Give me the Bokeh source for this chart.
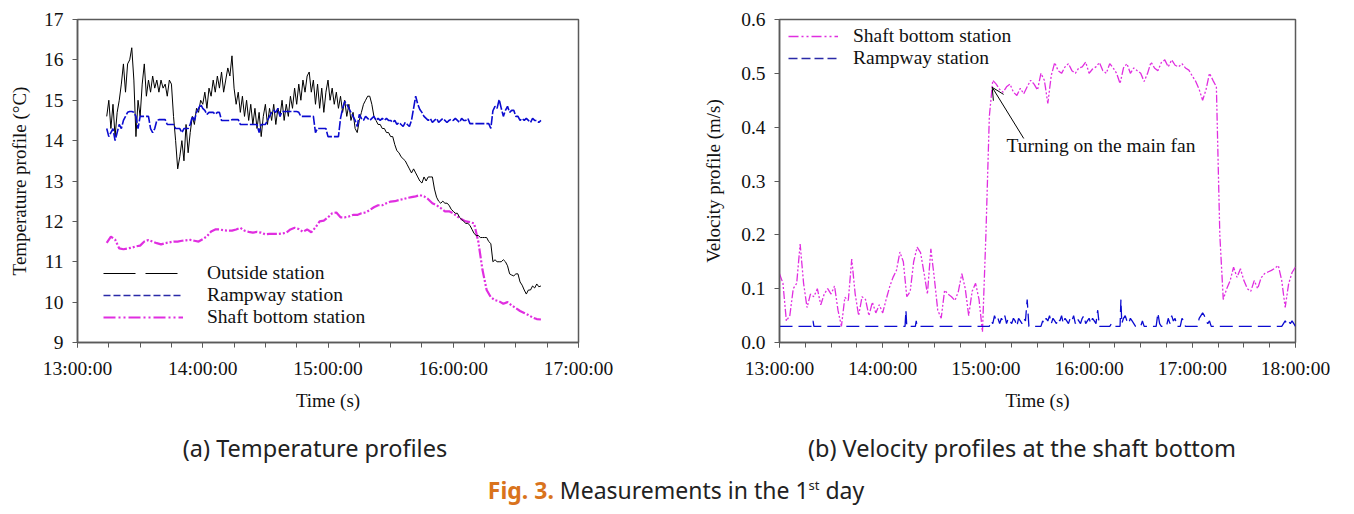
import pandas as pd
from bokeh.plotting import figure
from bokeh.models import (FixedTicker, DatetimeTickFormatter, NumeralTickFormatter, Legend,
                          LegendItem, Arrow, OpenHead, Label, Div, Range1d)
from bokeh.layouts import row, column
from bokeh.embed import file_html
from bokeh.resources import INLINE

# ---------------- data ----------------
DAY = "2000-01-01 "
T0 = pd.Timestamp(DAY + "13:00:00")

# (a) temperature, sampled every minute from 13:14
temp_start_min = 14
outside_temp = [
    14.6, 15.0, 14.3, 14.9, 14.1, 14.7, 15.0, 15.4, 15.9, 15.2,
    15.9, 16.0, 16.3, 15.5, 14.1, 15.0, 14.6, 15.4, 15.9, 15.1,
    15.5, 15.2, 15.6, 15.3, 15.5, 15.2, 15.5, 15.3, 15.4, 15.1,
    15.5, 15.4, 14.6, 14.0, 13.3, 13.6, 14.0, 13.5, 14.4, 13.7,
    14.2, 14.6, 14.4, 14.8, 14.7, 15.0, 14.9, 15.2, 14.8, 15.3,
    15.1, 15.5, 15.2, 15.6, 15.3, 15.7, 15.2, 15.5, 15.8, 15.6,
    16.1, 15.3, 14.9, 15.2, 14.7, 15.1, 14.6, 15.0, 14.5, 14.9,
    14.4, 14.8, 14.3, 14.7, 14.1, 14.6, 14.9, 14.4, 14.8, 14.5,
    14.9, 14.4, 14.8, 14.6, 15.0, 14.5, 14.9, 14.6, 15.1, 14.8,
    15.3, 14.9, 15.4, 15.0, 15.5, 15.2, 15.6, 15.7, 15.2, 15.5,
    14.9, 15.4, 14.8, 15.3, 14.7, 15.2, 15.5, 15.0, 15.3, 14.9,
    15.2, 14.8, 15.1, 14.7, 15.0, 14.6, 14.9, 14.5, 14.7, 14.3,
    14.2, 14.5, 14.7, 14.9, 15.0, 15.1, 15.1, 14.9, 14.6, 14.5,
    14.4, 14.4, 14.3, 14.3, 14.2, 14.2, 14.1, 14.1, 13.9, 13.75,
    13.7, 13.6, 13.55, 13.5, 13.4, 13.3, 13.2, 13.3, 13.2, 13.1,
    13.0, 12.95, 13.1, 13.0, 13.1, 13.1, 13.1, 12.8, 12.6, 12.5,
    12.45, 12.5, 12.45, 12.45, 12.4, 12.3, 12.25, 12.2, 12.2, 12.1,
    12.05, 12.0, 11.95, 11.95, 11.9, 11.8, 11.7, 11.65, 11.65, 11.6,
    11.6, 11.6, 11.6, 11.5, 11.45, 11.0, 11.05, 11.0, 11.0, 11.0,
    11.05, 11.0, 10.9, 10.7, 10.67, 10.65, 10.7, 10.7, 10.5, 10.42,
    10.3, 10.2, 10.3, 10.3, 10.4, 10.35, 10.45, 10.38, 10.4,
]
rampway_temp = [
    14.3, 14.1, 14.2, 14.3, 14.0, 14.2, 14.4, 14.3, 14.5, 14.6,
    14.7, 14.72, 14.72, 14.7, 14.6, 14.3, 14.6, 14.6, 14.6, 14.6,
    14.6, 14.3, 14.2, 14.3, 14.5, 14.52, 14.52, 14.52, 14.52, 14.4,
    14.4, 14.4, 14.4, 14.3, 14.3, 14.3, 14.2, 14.3, 14.3, 14.3,
    14.4, 14.6, 14.5, 14.7, 14.8, 14.9, 14.8, 14.75, 14.65, 14.7,
    14.7, 14.7, 14.65, 14.7, 14.7, 14.5, 14.5, 14.5, 14.5, 14.5,
    14.52, 14.52, 14.52, 14.52, 14.4, 14.4, 14.4, 14.4, 14.4, 14.4,
    14.4, 14.4, 14.4, 14.2, 14.4, 14.4, 14.4, 14.5, 14.6, 14.7,
    14.75, 14.7, 14.8, 14.6, 14.72, 14.72, 14.72, 14.72, 14.72, 14.72,
    14.72, 14.72, 14.7, 14.6, 14.6, 14.6, 14.6, 14.6, 14.6, 14.6,
    14.2, 14.3, 14.3, 14.3, 14.3, 14.3, 14.1, 14.1, 14.1, 14.1,
    14.1, 14.1, 14.55, 14.8, 14.97, 14.9, 14.8, 14.7, 14.6, 14.5,
    14.35, 14.65, 14.55, 14.5, 14.6, 14.55, 14.5, 14.55, 14.6, 14.5,
    14.55, 14.5, 14.55, 14.5, 14.55, 14.5, 14.5, 14.45, 14.5, 14.4,
    14.45, 14.4, 14.35, 14.45, 14.4, 14.35, 14.5, 14.8, 15.1, 14.9,
    14.77, 14.7, 14.6, 14.55, 14.5, 14.55, 14.45, 14.5, 14.55, 14.45,
    14.5, 14.55, 14.5, 14.45, 14.5, 14.53, 14.5, 14.55, 14.5, 14.45,
    14.55, 14.5, 14.5, 14.55, 14.42, 14.42, 14.42, 14.42, 14.42, 14.42,
    14.42, 14.42, 14.42, 14.42, 14.3, 14.74, 14.85, 14.8, 15.02, 14.8,
    14.6, 14.75, 14.85, 14.7, 14.75, 14.75, 14.6, 14.6, 14.5, 14.55,
    14.5, 14.55, 14.5, 14.45, 14.55, 14.5, 14.5, 14.45, 14.5,
]
# shaft bottom, every 2 minutes from 13:14
shaft_temp = [
    11.47, 11.62, 11.55, 11.33, 11.31, 11.33, 11.35, 11.38, 11.4, 11.5,
    11.54, 11.5, 11.46, 11.43, 11.46, 11.48, 11.5, 11.5, 11.52, 11.53,
    11.54, 11.52, 11.5, 11.56, 11.63, 11.75, 11.8, 11.8, 11.78, 11.77,
    11.77, 11.8, 11.84, 11.77, 11.74, 11.72, 11.74, 11.72, 11.68, 11.69,
    11.69, 11.69, 11.7, 11.72, 11.8, 11.84, 11.81, 11.74, 11.8, 11.73,
    11.85, 12.0, 12.02, 12.1, 12.2, 12.22, 12.1, 12.1, 12.12, 12.16,
    12.16, 12.2, 12.22, 12.28, 12.35, 12.4, 12.4, 12.45, 12.49, 12.5,
    12.53, 12.55, 12.58, 12.6, 12.62, 12.65, 12.62, 12.55, 12.45, 12.4,
    12.33, 12.25, 12.25, 12.2, 12.12, 12.05, 12.0, 11.98, 11.95, 11.5,
    10.8, 10.3, 10.12, 10.05, 10.02, 9.96, 10.0, 9.92, 9.85, 9.78,
    9.73, 9.68, 9.62, 9.58, 9.57,
]

# (b) velocity, shaft bottom every 2 minutes from 13:00
shaft_vel = [
    0.128, 0.11, 0.04, 0.05, 0.1, 0.11, 0.183, 0.11, 0.065, 0.09,
    0.085, 0.1, 0.07, 0.09, 0.1, 0.09, 0.105, 0.06, 0.03, 0.084,
    0.078, 0.155, 0.09, 0.05, 0.085, 0.08, 0.05, 0.075, 0.055, 0.07,
    0.055, 0.08, 0.103, 0.121, 0.134, 0.168, 0.15, 0.085, 0.095, 0.15,
    0.177, 0.167, 0.13, 0.09, 0.174, 0.12, 0.06, 0.045, 0.097, 0.09,
    0.085, 0.078, 0.095, 0.128, 0.1, 0.05, 0.095, 0.11, 0.08, 0.02,
    0.2, 0.42, 0.487, 0.48, 0.47, 0.465, 0.475, 0.48, 0.465, 0.459,
    0.472, 0.462, 0.475, 0.487, 0.48, 0.469, 0.5, 0.487, 0.444, 0.496,
    0.52, 0.505, 0.5, 0.512, 0.518, 0.505, 0.5, 0.51, 0.512, 0.521,
    0.5, 0.508, 0.512, 0.52, 0.505, 0.5, 0.518, 0.51, 0.5, 0.481,
    0.51, 0.518, 0.5, 0.51, 0.505, 0.5, 0.485, 0.5, 0.521, 0.51,
    0.505, 0.52, 0.525, 0.512, 0.525, 0.515, 0.512, 0.518, 0.51, 0.506,
    0.495, 0.485, 0.47, 0.45, 0.47, 0.5, 0.487, 0.475, 0.2, 0.08,
    0.1, 0.115, 0.14, 0.121, 0.137, 0.115, 0.1, 0.095, 0.115, 0.1,
    0.12, 0.128, 0.131, 0.134, 0.138, 0.143, 0.115, 0.065, 0.109, 0.13,
    0.14,
]
# rampway velocity: minutes after 13:00 and values
ramp_vel_min = [
    0, 19, 19.5, 20, 73, 73.5, 74, 79, 79.5, 80, 122,
    123, 124, 125, 126, 127, 128, 129, 130, 131, 132, 133, 134, 135, 136, 137, 138,
    139, 140, 141, 142, 143, 144, 145, 152,
    153, 154, 155, 156, 157, 158, 159, 160, 161, 162, 163, 164, 165, 166, 167, 168,
    169, 170, 171, 172, 173, 174, 175, 176, 177, 178, 179, 180, 181, 182, 183, 184,
    185, 186, 192, 193, 194, 198, 198.5, 199, 200, 201, 202, 203, 204, 205, 206, 207,
    210, 211, 212, 219, 220, 221, 222, 225, 226, 227, 228, 229, 230, 231, 233, 234,
    235, 236, 243, 244, 245, 246, 247, 248, 249, 250, 251, 292, 293, 294, 295, 296,
    297, 298, 299, 300,
]
ramp_vel = [
    0.03, 0.03, 0.04, 0.03, 0.03, 0.06, 0.03, 0.03, 0.04, 0.03, 0.03,
    0.04, 0.035, 0.05, 0.04, 0.045, 0.035, 0.045, 0.04, 0.05, 0.035, 0.045, 0.04, 0.035, 0.045, 0.04, 0.03,
    0.045, 0.04, 0.035, 0.045, 0.04, 0.08, 0.03, 0.03,
    0.04, 0.035, 0.045, 0.04, 0.05, 0.035, 0.045, 0.04, 0.035, 0.045, 0.04, 0.05, 0.035, 0.045, 0.04, 0.035,
    0.045, 0.04, 0.05, 0.035, 0.045, 0.04, 0.035, 0.045, 0.05, 0.035, 0.04, 0.045, 0.035, 0.045, 0.04, 0.035,
    0.06, 0.03, 0.03, 0.035, 0.03, 0.03, 0.08, 0.035, 0.045, 0.05, 0.04, 0.035, 0.045, 0.04, 0.035, 0.03,
    0.03, 0.04, 0.03, 0.03, 0.055, 0.035, 0.03, 0.03, 0.045, 0.035, 0.05, 0.04, 0.045, 0.03, 0.03, 0.045,
    0.04, 0.03, 0.03, 0.045, 0.05, 0.055, 0.05, 0.04, 0.035, 0.04, 0.03, 0.03, 0.035, 0.04, 0.035, 0.04,
    0.035, 0.04, 0.035, 0.03,
]

temp_ticks = ["13:00:00", "14:00:00", "15:00:00", "16:00:00", "17:00:00"]
vel_ticks = ["13:00:00", "14:00:00", "15:00:00", "16:00:00", "17:00:00", "18:00:00"]
temp_yticks = [9, 10, 11, 12, 13, 14, 15, 16, 17]
vel_yticks = [0.0, 0.1, 0.2, 0.3, 0.4, 0.5, 0.6]

# ---------------- helpers ----------------
SERIF = "Liberation Serif"
AX = "#5a5a5a"
FS = "19.5px"


def ts(hms):
    return pd.Timestamp(DAY + hms)


def ms(hms):
    return ts(hms).value / 1e6


def minutes_series(start_min, step, n):
    return [T0 + pd.Timedelta(minutes=start_min + step * i) for i in range(n)]


def quarter_ticks(first, last):
    out = []
    t = ts(first)
    while t <= ts(last):
        out.append(t.value / 1e6)
        t += pd.Timedelta(minutes=15)
    return out


fmt_all = dict(milliseconds="%H:%M:%S", seconds="%H:%M:%S", minsec="%H:%M:%S",
               minutes="%H:%M:%S", hourmin="%H:%M:%S", hours="%H:%M:%S",
               days="%H:%M:%S", months="%H:%M:%S", years="%H:%M:%S")


def style(p):
    p.xgrid.visible = False
    p.ygrid.visible = False
    p.outline_line_color = AX
    p.outline_line_width = 1.5
    p.background_fill_color = "white"
    p.border_fill_color = "white"
    for ax in list(p.xaxis) + list(p.yaxis):
        ax.axis_line_color = AX
        ax.axis_line_width = 1.5
        ax.major_tick_line_color = AX
        ax.minor_tick_line_color = AX
        ax.major_tick_in = 0
        ax.major_tick_out = 5
        ax.minor_tick_in = 0
        ax.minor_tick_out = 5
        ax.major_label_text_font = SERIF
        ax.major_label_text_font_size = FS
        ax.major_label_text_color = "#111111"
        ax.major_label_standoff = 10
        ax.axis_label_text_font = SERIF
        ax.axis_label_text_font_size = "19px"
        ax.axis_label_text_font_style = "normal"
        ax.axis_label_text_color = "#111111"
    for ax in p.yaxis:
        ax.minor_tick_line_color = None
        ax.major_label_standoff = 9


def dummy(p, **kw):
    # legend-only renderer: one point outside the visible range
    return p.line([T0 - pd.Timedelta(hours=2)], [0], **kw)


# ---------------- (a) temperature ----------------
pL = figure(width=698, height=420, x_axis_type="datetime", output_backend="svg",
            toolbar_location=None, min_border_left=77, min_border_right=120,
            min_border_top=17, min_border_bottom=75,
            x_range=Range1d(ts("13:00:00"), ts("17:00:00")), y_range=Range1d(9, 17))
style(pL)
pL.xaxis.ticker = FixedTicker(ticks=[ms(t) for t in temp_ticks],
                              minor_ticks=quarter_ticks("13:00:00", "17:00:00"))
pL.xaxis.formatter = DatetimeTickFormatter(**fmt_all)
pL.yaxis.ticker = FixedTicker(ticks=temp_yticks)
pL.xaxis.axis_label = "Time (s)"
pL.yaxis.axis_label = "Temperature profile (°C)"
pL.xaxis.axis_label_standoff = 8
pL.yaxis.axis_label_standoff = 11

BLACK = "#000000"
BLUE = "#0b0bd0"
MAG = "#e02ee0"

pL.line(minutes_series(temp_start_min, 2, len(shaft_temp)), shaft_temp, color=MAG,
        line_width=2.2, line_dash="10 2 2 2 2 2")
pL.line(minutes_series(temp_start_min, 1, len(outside_temp)), outside_temp, color=BLACK,
        line_width=1)
pL.line(minutes_series(temp_start_min, 1, len(rampway_temp)), rampway_temp, color=BLUE,
        line_width=1.6, line_dash="9 2")

lg_o = dummy(pL, color=BLACK, line_width=1.2, line_dash="32 10")
lg_r = dummy(pL, color="#2a2aa8", line_width=1.6, line_dash="7 3")
lg_s = dummy(pL, color=MAG, line_width=2.2, line_dash="12 3 2 3 2 3")
legL = Legend(items=[LegendItem(label="Outside station", renderers=[lg_o]),
                     LegendItem(label="Rampway station", renderers=[lg_r]),
                     LegendItem(label="Shaft bottom station", renderers=[lg_s])],
              location=(26, 14), padding=0, margin=0, spacing=0,
              border_line_color=None, background_fill_alpha=0,
              label_text_font=SERIF, label_text_font_size=FS, label_text_color="#111111",
              glyph_width=80, glyph_height=22, label_height=22, label_standoff=24)
pL.add_layout(legL)

# ---------------- (b) velocity ----------------
pR = figure(width=648, height=420, x_axis_type="datetime", output_backend="svg",
            toolbar_location=None, min_border_left=81, min_border_right=51,
            min_border_top=19, min_border_bottom=78,
            x_range=Range1d(ts("13:00:00"), ts("18:00:00")), y_range=Range1d(0, 0.6))
style(pR)
pR.xaxis.ticker = FixedTicker(ticks=[ms(t) for t in vel_ticks],
                              minor_ticks=quarter_ticks("13:00:00", "18:00:00"))
pR.xaxis.formatter = DatetimeTickFormatter(**fmt_all)
pR.yaxis.ticker = FixedTicker(ticks=vel_yticks)
pR.yaxis.formatter = NumeralTickFormatter(format="0.0")
pR.xaxis.axis_label = "Time (s)"
pR.yaxis.axis_label = "Velocity profile (m/s)"
pR.xaxis.axis_label_standoff = 8
pR.yaxis.axis_label_standoff = 14

pR.line(minutes_series(0, 2, len(shaft_vel)), shaft_vel, color=MAG, line_width=1.3,
        line_dash="8 2 2 2 2 2")
pR.line([T0 + pd.Timedelta(minutes=m) for m in ramp_vel_min], ramp_vel, color=BLUE,
        line_width=1.3, line_dash="13 6")

lg_s2 = dummy(pR, color=MAG, line_width=1.3, line_dash="10 3 2 3 2 3")
lg_r2 = dummy(pR, color="#2a2aa8", line_width=1.3, line_dash="9 4")
legR = Legend(items=[LegendItem(label="Shaft bottom station", renderers=[lg_s2]),
                     LegendItem(label="Rampway station", renderers=[lg_r2])],
              location=(9, 273), padding=0, margin=0, spacing=0,
              border_line_color=None, background_fill_alpha=0,
              label_text_font=SERIF, label_text_font_size=FS, label_text_color="#111111",
              glyph_width=50, glyph_height=22, label_height=22, label_standoff=15)
pR.add_layout(legR)

pR.add_layout(Arrow(end=OpenHead(size=12, line_width=1, line_color="black"),
                    x_start=ms("15:22:00"), y_start=0.379,
                    x_end=ms("15:03:40"), y_end=0.474,
                    line_width=1, line_color="black"))
pR.add_layout(Label(x=ms("15:12:00"), y=0.366, text="Turning on the main fan",
                    text_font=SERIF, text_font_size=FS, text_baseline="middle",
                    text_color="#111111"))

# ---------------- captions ----------------
CAP = ("font-family:'Noto Sans',sans-serif;color:#222;white-space:nowrap;position:absolute;"
       "transform:translateX(-50%);")
html = f"""
<div style="position:relative;width:1346px;height:90px;overflow:visible;">
  <div style="{CAP}left:315px;top:17px;font-size:23.5px;line-height:23.5px;">(a) Temperature profiles</div>
  <div style="{CAP}left:1022px;top:17px;font-size:23.5px;line-height:23.5px;">(b) Velocity profiles at the shaft bottom</div>
  <div style="{CAP}left:676px;top:59px;font-size:23px;line-height:23px;"><span style="color:#d9731c;font-weight:bold;">Fig. 3.</span> Measurements in the 1<span style="font-size:13px;position:relative;top:-9px;">st</span> day</div>
</div>
"""
cap = Div(text=html, width=1346, height=90, margin=(0, 0, 0, 0))

layout = column(row(pL, pR, spacing=0), cap, spacing=0)
open("out.html", "w").write(file_html(layout, INLINE))
